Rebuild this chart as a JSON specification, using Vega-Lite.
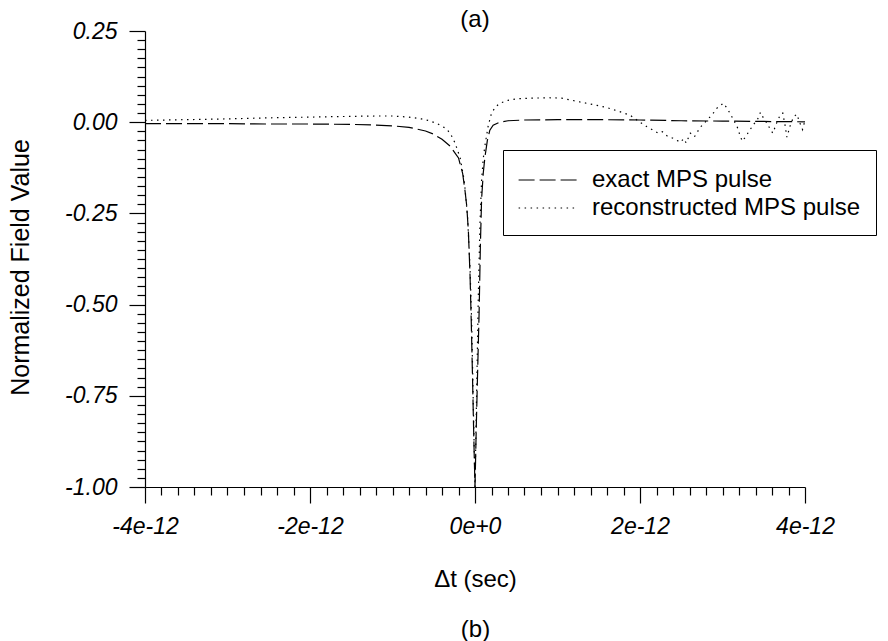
{
  "$schema": "https://vega.github.io/schema/vega-lite/v6.json",
  "width": 660,
  "height": 456,
  "autosize": "none",
  "padding": {"left": 145, "top": 31, "right": 83, "bottom": 154},
  "background": "white",
  "config": {"view": {"stroke": null}, "font": "Liberation Sans"},
  "title": {"text": "(a)", "fontSize": 24, "fontWeight": "normal", "font": "Liberation Sans", "color": "black", "anchor": "middle", "frame": "group", "offset": -8, "dy": 4},
  "data": {"values": [
    {"series": "exact MPS pulse", "t": -4e-12, "v": -0.004},
    {"series": "exact MPS pulse", "t": -3.5e-12, "v": -0.004},
    {"series": "exact MPS pulse", "t": -3e-12, "v": -0.004},
    {"series": "exact MPS pulse", "t": -2.5e-12, "v": -0.005},
    {"series": "exact MPS pulse", "t": -2e-12, "v": -0.005},
    {"series": "exact MPS pulse", "t": -1.5e-12, "v": -0.006},
    {"series": "exact MPS pulse", "t": -1.2e-12, "v": -0.008},
    {"series": "exact MPS pulse", "t": -1e-12, "v": -0.010},
    {"series": "exact MPS pulse", "t": -0.8e-12, "v": -0.014},
    {"series": "exact MPS pulse", "t": -0.6e-12, "v": -0.024},
    {"series": "exact MPS pulse", "t": -0.5e-12, "v": -0.033},
    {"series": "exact MPS pulse", "t": -0.4e-12, "v": -0.047},
    {"series": "exact MPS pulse", "t": -0.3e-12, "v": -0.066},
    {"series": "exact MPS pulse", "t": -0.2e-12, "v": -0.098},
    {"series": "exact MPS pulse", "t": -0.15e-12, "v": -0.14},
    {"series": "exact MPS pulse", "t": -0.12e-12, "v": -0.19},
    {"series": "exact MPS pulse", "t": -0.1e-12, "v": -0.23},
    {"series": "exact MPS pulse", "t": -0.08e-12, "v": -0.3},
    {"series": "exact MPS pulse", "t": -0.06e-12, "v": -0.42},
    {"series": "exact MPS pulse", "t": -0.045e-12, "v": -0.55},
    {"series": "exact MPS pulse", "t": -0.03e-12, "v": -0.7},
    {"series": "exact MPS pulse", "t": -0.015e-12, "v": -0.86},
    {"series": "exact MPS pulse", "t": 0, "v": -1.0},
    {"series": "exact MPS pulse", "t": 0.015e-12, "v": -0.84},
    {"series": "exact MPS pulse", "t": 0.03e-12, "v": -0.7},
    {"series": "exact MPS pulse", "t": 0.05e-12, "v": -0.52},
    {"series": "exact MPS pulse", "t": 0.065e-12, "v": -0.34},
    {"series": "exact MPS pulse", "t": 0.08e-12, "v": -0.21},
    {"series": "exact MPS pulse", "t": 0.1e-12, "v": -0.14},
    {"series": "exact MPS pulse", "t": 0.12e-12, "v": -0.096},
    {"series": "exact MPS pulse", "t": 0.15e-12, "v": -0.05},
    {"series": "exact MPS pulse", "t": 0.18e-12, "v": -0.022},
    {"series": "exact MPS pulse", "t": 0.22e-12, "v": -0.008},
    {"series": "exact MPS pulse", "t": 0.3e-12, "v": 0.0},
    {"series": "exact MPS pulse", "t": 0.4e-12, "v": 0.004},
    {"series": "exact MPS pulse", "t": 0.6e-12, "v": 0.006},
    {"series": "exact MPS pulse", "t": 1e-12, "v": 0.007},
    {"series": "exact MPS pulse", "t": 1.5e-12, "v": 0.007},
    {"series": "exact MPS pulse", "t": 2e-12, "v": 0.006},
    {"series": "exact MPS pulse", "t": 2.5e-12, "v": 0.004},
    {"series": "exact MPS pulse", "t": 3e-12, "v": 0.003},
    {"series": "exact MPS pulse", "t": 3.5e-12, "v": 0.002},
    {"series": "exact MPS pulse", "t": 4e-12, "v": 0.001},
    {"series": "reconstructed MPS pulse", "t": -4e-12, "v": 0.005},
    {"series": "reconstructed MPS pulse", "t": -3.5e-12, "v": 0.007},
    {"series": "reconstructed MPS pulse", "t": -3e-12, "v": 0.009},
    {"series": "reconstructed MPS pulse", "t": -2.5e-12, "v": 0.012},
    {"series": "reconstructed MPS pulse", "t": -2e-12, "v": 0.014},
    {"series": "reconstructed MPS pulse", "t": -1.5e-12, "v": 0.016},
    {"series": "reconstructed MPS pulse", "t": -1.2e-12, "v": 0.017},
    {"series": "reconstructed MPS pulse", "t": -1e-12, "v": 0.017},
    {"series": "reconstructed MPS pulse", "t": -0.8e-12, "v": 0.014},
    {"series": "reconstructed MPS pulse", "t": -0.65e-12, "v": 0.009},
    {"series": "reconstructed MPS pulse", "t": -0.55e-12, "v": 0.004},
    {"series": "reconstructed MPS pulse", "t": -0.45e-12, "v": -0.005},
    {"series": "reconstructed MPS pulse", "t": -0.36e-12, "v": -0.016},
    {"series": "reconstructed MPS pulse", "t": -0.3e-12, "v": -0.03},
    {"series": "reconstructed MPS pulse", "t": -0.24e-12, "v": -0.058},
    {"series": "reconstructed MPS pulse", "t": -0.18e-12, "v": -0.098},
    {"series": "reconstructed MPS pulse", "t": -0.13e-12, "v": -0.16},
    {"series": "reconstructed MPS pulse", "t": -0.09e-12, "v": -0.26},
    {"series": "reconstructed MPS pulse", "t": -0.06e-12, "v": -0.4},
    {"series": "reconstructed MPS pulse", "t": -0.04e-12, "v": -0.55},
    {"series": "reconstructed MPS pulse", "t": -0.02e-12, "v": -0.78},
    {"series": "reconstructed MPS pulse", "t": 0, "v": -1.0},
    {"series": "reconstructed MPS pulse", "t": 0.02e-12, "v": -0.74},
    {"series": "reconstructed MPS pulse", "t": 0.04e-12, "v": -0.48},
    {"series": "reconstructed MPS pulse", "t": 0.06e-12, "v": -0.28},
    {"series": "reconstructed MPS pulse", "t": 0.08e-12, "v": -0.16},
    {"series": "reconstructed MPS pulse", "t": 0.1e-12, "v": -0.1},
    {"series": "reconstructed MPS pulse", "t": 0.12e-12, "v": -0.065},
    {"series": "reconstructed MPS pulse", "t": 0.16e-12, "v": -0.01},
    {"series": "reconstructed MPS pulse", "t": 0.2e-12, "v": 0.025},
    {"series": "reconstructed MPS pulse", "t": 0.25e-12, "v": 0.042},
    {"series": "reconstructed MPS pulse", "t": 0.3e-12, "v": 0.052},
    {"series": "reconstructed MPS pulse", "t": 0.4e-12, "v": 0.06},
    {"series": "reconstructed MPS pulse", "t": 0.5e-12, "v": 0.064},
    {"series": "reconstructed MPS pulse", "t": 0.7e-12, "v": 0.066},
    {"series": "reconstructed MPS pulse", "t": 0.9e-12, "v": 0.067},
    {"series": "reconstructed MPS pulse", "t": 1.05e-12, "v": 0.066},
    {"series": "reconstructed MPS pulse", "t": 1.24e-12, "v": 0.057},
    {"series": "reconstructed MPS pulse", "t": 1.35e-12, "v": 0.052},
    {"series": "reconstructed MPS pulse", "t": 1.48e-12, "v": 0.046},
    {"series": "reconstructed MPS pulse", "t": 1.6e-12, "v": 0.04},
    {"series": "reconstructed MPS pulse", "t": 1.67e-12, "v": 0.035},
    {"series": "reconstructed MPS pulse", "t": 1.78e-12, "v": 0.027},
    {"series": "reconstructed MPS pulse", "t": 1.88e-12, "v": 0.019},
    {"series": "reconstructed MPS pulse", "t": 1.95e-12, "v": 0.008},
    {"series": "reconstructed MPS pulse", "t": 2e-12, "v": 0.0},
    {"series": "reconstructed MPS pulse", "t": 2.08e-12, "v": -0.012},
    {"series": "reconstructed MPS pulse", "t": 2.16e-12, "v": -0.022},
    {"series": "reconstructed MPS pulse", "t": 2.22e-12, "v": -0.03},
    {"series": "reconstructed MPS pulse", "t": 2.27e-12, "v": -0.026},
    {"series": "reconstructed MPS pulse", "t": 2.33e-12, "v": -0.038},
    {"series": "reconstructed MPS pulse", "t": 2.4e-12, "v": -0.044},
    {"series": "reconstructed MPS pulse", "t": 2.45e-12, "v": -0.05},
    {"series": "reconstructed MPS pulse", "t": 2.49e-12, "v": -0.055},
    {"series": "reconstructed MPS pulse", "t": 2.53e-12, "v": -0.045},
    {"series": "reconstructed MPS pulse", "t": 2.56e-12, "v": -0.057},
    {"series": "reconstructed MPS pulse", "t": 2.61e-12, "v": -0.03},
    {"series": "reconstructed MPS pulse", "t": 2.66e-12, "v": -0.04},
    {"series": "reconstructed MPS pulse", "t": 2.73e-12, "v": -0.014},
    {"series": "reconstructed MPS pulse", "t": 2.81e-12, "v": 0.005},
    {"series": "reconstructed MPS pulse", "t": 2.88e-12, "v": 0.022},
    {"series": "reconstructed MPS pulse", "t": 2.93e-12, "v": 0.038},
    {"series": "reconstructed MPS pulse", "t": 2.97e-12, "v": 0.045},
    {"series": "reconstructed MPS pulse", "t": 3.01e-12, "v": 0.052},
    {"series": "reconstructed MPS pulse", "t": 3.05e-12, "v": 0.04},
    {"series": "reconstructed MPS pulse", "t": 3.09e-12, "v": 0.025},
    {"series": "reconstructed MPS pulse", "t": 3.13e-12, "v": 0.008},
    {"series": "reconstructed MPS pulse", "t": 3.18e-12, "v": -0.014},
    {"series": "reconstructed MPS pulse", "t": 3.21e-12, "v": -0.035},
    {"series": "reconstructed MPS pulse", "t": 3.24e-12, "v": -0.052},
    {"series": "reconstructed MPS pulse", "t": 3.28e-12, "v": -0.04},
    {"series": "reconstructed MPS pulse", "t": 3.33e-12, "v": -0.022},
    {"series": "reconstructed MPS pulse", "t": 3.38e-12, "v": -0.005},
    {"series": "reconstructed MPS pulse", "t": 3.42e-12, "v": 0.005},
    {"series": "reconstructed MPS pulse", "t": 3.46e-12, "v": 0.027},
    {"series": "reconstructed MPS pulse", "t": 3.5e-12, "v": 0.01},
    {"series": "reconstructed MPS pulse", "t": 3.54e-12, "v": -0.003},
    {"series": "reconstructed MPS pulse", "t": 3.58e-12, "v": -0.02},
    {"series": "reconstructed MPS pulse", "t": 3.61e-12, "v": -0.03},
    {"series": "reconstructed MPS pulse", "t": 3.66e-12, "v": 0.0},
    {"series": "reconstructed MPS pulse", "t": 3.7e-12, "v": 0.02},
    {"series": "reconstructed MPS pulse", "t": 3.73e-12, "v": 0.025},
    {"series": "reconstructed MPS pulse", "t": 3.76e-12, "v": -0.01},
    {"series": "reconstructed MPS pulse", "t": 3.78e-12, "v": -0.041},
    {"series": "reconstructed MPS pulse", "t": 3.82e-12, "v": -0.01},
    {"series": "reconstructed MPS pulse", "t": 3.86e-12, "v": 0.014},
    {"series": "reconstructed MPS pulse", "t": 3.9e-12, "v": 0.022},
    {"series": "reconstructed MPS pulse", "t": 3.94e-12, "v": -0.003},
    {"series": "reconstructed MPS pulse", "t": 3.97e-12, "v": -0.02},
    {"series": "reconstructed MPS pulse", "t": 4e-12, "v": 0.005}
  ]},
  "mark": {"type": "line", "color": "black", "strokeWidth": 1.2},
  "encoding": {
    "x": {
      "field": "t", "type": "quantitative",
      "scale": {"domain": [-4e-12, 4e-12], "nice": false, "zero": false},
      "axis": {
        "title": ["Δt (sec)", "(b)"],
        "titleFont": "Liberation Sans", "titleFontSize": 24, "titleFontWeight": "normal", "titleColor": "black",
        "titleLineHeight": 50, "titlePadding": 29,
        "values": [-4e-12, -3.8e-12, -3.6e-12, -3.4e-12, -3.2e-12, -3e-12, -2.8e-12, -2.6e-12, -2.4e-12, -2.2e-12, -2e-12, -1.8e-12, -1.6e-12, -1.4e-12, -1.2e-12, -1e-12, -0.8e-12, -0.6e-12, -0.4e-12, -0.2e-12, 0, 0.2e-12, 0.4e-12, 0.6e-12, 0.8e-12, 1e-12, 1.2e-12, 1.4e-12, 1.6e-12, 1.8e-12, 2e-12, 2.2e-12, 2.4e-12, 2.6e-12, 2.8e-12, 3e-12, 3.2e-12, 3.4e-12, 3.6e-12, 3.8e-12, 4e-12],
        "labelExpr": "abs(datum.value/2e-12 - round(datum.value/2e-12)) < 1e-6 ? replace(format(datum.value, '.0e'), '\u2212', '-') : ''",
        "tickSize": {"condition": {"test": "abs(datum.value/2e-12 - round(datum.value/2e-12)) < 1e-6", "value": 16}, "value": 8},
        "labelFont": "Liberation Sans", "labelFontSize": 23, "labelFontStyle": "italic", "labelColor": "black",
        "labelPadding": 12, "labelOverlap": false, "labelFlush": false, "labelBound": false,
        "grid": false, "domainColor": "black", "tickColor": "black", "domainWidth": 1.2, "tickWidth": 1.2
      }
    },
    "y": {
      "field": "v", "type": "quantitative",
      "scale": {"domain": [-1, 0.25], "nice": false, "zero": false},
      "axis": {
        "title": "Normalized Field Value",
        "titleFont": "Liberation Sans", "titleFontSize": 25, "titleFontWeight": "normal", "titleColor": "black",
        "titlePadding": 31, "titleY": 236,
        "values": [-1, -0.975, -0.95, -0.925, -0.9, -0.875, -0.85, -0.825, -0.8, -0.775, -0.75, -0.725, -0.7, -0.675, -0.65, -0.625, -0.6, -0.575, -0.55, -0.525, -0.5, -0.475, -0.45, -0.425, -0.4, -0.375, -0.35, -0.325, -0.3, -0.275, -0.25, -0.225, -0.2, -0.175, -0.15, -0.125, -0.1, -0.075, -0.05, -0.025, 0, 0.025, 0.05, 0.075, 0.1, 0.125, 0.15, 0.175, 0.2, 0.225, 0.25],
        "labelExpr": "abs(datum.value*4 - round(datum.value*4)) < 1e-6 ? replace(format(datum.value, '.2f'), '\u2212', '-') : ''",
        "tickSize": {"condition": {"test": "abs(datum.value*4 - round(datum.value*4)) < 1e-6", "value": 16}, "value": 8},
        "labelFont": "Liberation Sans", "labelFontSize": 23, "labelFontStyle": "italic", "labelColor": "black",
        "labelPadding": 12, "labelOverlap": false, "labelFlush": false, "labelBound": false,
        "grid": false, "domainColor": "black", "tickColor": "black", "domainWidth": 1.2, "tickWidth": 1.2
      }
    },
    "strokeDash": {
      "field": "series", "type": "nominal",
      "scale": {"domain": ["exact MPS pulse", "reconstructed MPS pulse"], "range": [[16, 5], [1.5, 4.5]]},
      "legend": {
        "title": null, "orient": "none", "legendX": 358, "legendY": 119,
        "strokeColor": "black", "fillColor": "white", "padding": 15, "cornerRadius": 0,
        "labelFont": "Liberation Sans", "labelFontSize": 24, "labelColor": "black", "labelLimit": 400,
        "symbolType": "M-2.1,0H2.1", "symbolSize": 784, "symbolStrokeColor": "black", "symbolStrokeWidth": 1.2,
        "symbolFillColor": "transparent", "symbolOffset": 15,
        "labelOffset": 29, "rowPadding": 1
      }
    }
  }
}
